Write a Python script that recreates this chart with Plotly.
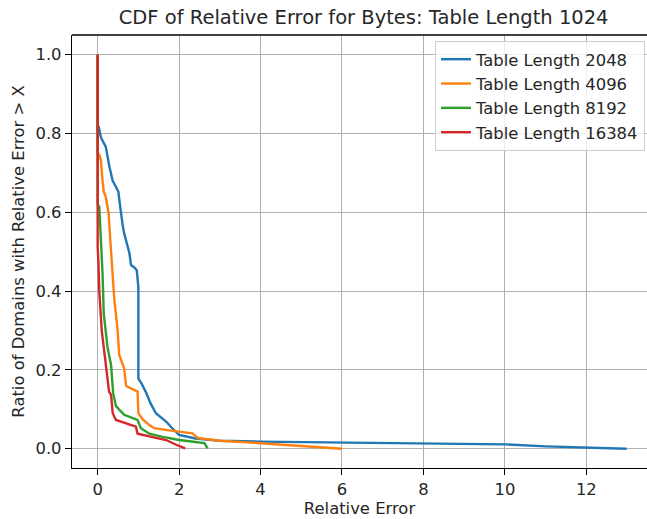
import plotly.graph_objects as go

# ---- data ----
series_names = ["Table Length 2048", "Table Length 4096", "Table Length 8192", "Table Length 16384"]
series_colors = ["#1f77b4", "#ff7f0e", "#2ca02c", "#d62728"]

x_2048 = [0.0, 0.0, 0.02, 0.08, 0.2, 0.24, 0.29, 0.37, 0.45, 0.51, 0.54, 0.57, 0.61, 0.65, 0.72, 0.78, 0.82, 0.9, 0.96, 1.0, 1.0,
          1.08, 1.2, 1.3, 1.43, 1.55, 1.68, 1.85, 2.0, 2.4, 3.0, 3.97, 6.0, 8.0, 10.0, 11.0, 12.0, 12.99]
y_2048 = [1.0, 0.81, 0.82, 0.79, 0.766, 0.74, 0.715, 0.68, 0.665, 0.652, 0.625, 0.598, 0.57, 0.547, 0.52, 0.496, 0.466, 0.46, 0.453, 0.41, 0.178,
          0.165, 0.14, 0.115, 0.09, 0.08, 0.069, 0.05, 0.035, 0.026, 0.02, 0.018, 0.015, 0.013, 0.011, 0.006, 0.003, 0.0]

x_4096 = [0.0, 0.0, 0.04, 0.08, 0.12, 0.15, 0.2, 0.27, 0.31, 0.34, 0.37, 0.41, 0.45, 0.49, 0.53, 0.6, 0.65, 0.7, 0.85, 0.98, 1.0,
          1.1, 1.27, 1.39, 1.8, 2.33, 2.46, 3.0, 4.0, 5.0, 6.0]
y_4096 = [1.0, 0.75, 0.745, 0.732, 0.68, 0.652, 0.639, 0.597, 0.53, 0.48, 0.428, 0.377, 0.34, 0.30, 0.238, 0.22, 0.204, 0.159, 0.152, 0.145, 0.09,
          0.075, 0.06, 0.052, 0.046, 0.039, 0.027, 0.02, 0.014, 0.007, 0.0]

x_8192 = [0.0, 0.0, 0.04, 0.08, 0.12, 0.15, 0.2, 0.24, 0.33, 0.38, 0.45, 0.55, 0.65, 0.8, 0.98, 1.06, 1.27, 1.6, 2.0, 2.4, 2.62, 2.7]
y_8192 = [1.0, 0.62, 0.614, 0.53, 0.445, 0.343, 0.30, 0.259, 0.212, 0.141, 0.108, 0.098, 0.086, 0.08, 0.073, 0.052, 0.038, 0.03, 0.022, 0.017, 0.014, 0.001]

x_16384 = [0.0, 0.0, 0.02, 0.04, 0.1, 0.2, 0.24, 0.28, 0.33, 0.37, 0.45, 0.7, 0.94, 0.98, 1.27, 1.68, 1.93, 2.15]
y_16384 = [1.0, 0.512, 0.47, 0.40, 0.30, 0.217, 0.183, 0.145, 0.136, 0.09, 0.073, 0.064, 0.056, 0.038, 0.031, 0.022, 0.010, 0.001]

xs = [x_2048, x_4096, x_8192, x_16384]
ys = [y_2048, y_4096, y_8192, y_16384]

title_text = "CDF of Relative Error for Bytes: Table Length 1024"
x_title = "Relative Error"
y_title = "Ratio of Domains with Relative Error > X"
x_ticks = [0, 2, 4, 6, 8, 10, 12]
y_ticks = [0.0, 0.2, 0.4, 0.6, 0.8, 1.0]

FONT = "DejaVu Sans"
TXT = "#262626"

fig = go.Figure()
for name, color, x, y in zip(series_names, series_colors, xs, ys):
    fig.add_trace(go.Scatter(x=x, y=y, mode="lines", name=name,
                             line=dict(color=color, width=2.4)))

fig.update_layout(
    width=647, height=519,
    margin=dict(l=72, r=0, t=35, b=51, autoexpand=False),
    paper_bgcolor="white", plot_bgcolor="white",
    font=dict(family=FONT, size=16.4, color=TXT),
    title=dict(text=title_text, x=0.562, xref="container", xanchor="center",
               y=0.967, yref="container", yanchor="middle", font=dict(size=19.5, color=TXT)),
    legend=dict(x=0.9965, xanchor="right", y=0.986, yanchor="top",
                bgcolor="rgba(255,255,255,0.8)", bordercolor="#cccccc", borderwidth=1,
                font=dict(size=16.4), itemwidth=30, tracegroupgap=0),
    showlegend=True,
)
fig.update_xaxes(
    range=[-0.63, 13.49], tickvals=x_ticks, ticktext=[str(v) for v in x_ticks],
    showgrid=True, gridcolor="#b0b0b0", gridwidth=1.3,
    showline=True, linecolor="black", linewidth=1.3, mirror=False,
    ticks="outside", ticklen=6, tickcolor="black", tickwidth=1.3,
    zeroline=False, automargin=False,
    title=dict(text=x_title, standoff=4, font=dict(size=16.4)),
)
fig.update_yaxes(
    range=[-0.049, 1.05], tickvals=y_ticks, ticktext=[f"{v:.1f}" for v in y_ticks],
    showgrid=True, gridcolor="#b0b0b0", gridwidth=1.3,
    showline=True, linecolor="black", linewidth=1.3,
    ticks="outside", ticklen=6, tickcolor="black", tickwidth=1.3,
    zeroline=False, automargin=False,
    title=dict(text=y_title, standoff=6, font=dict(size=16.4)),
)
# top spine (right spine falls outside the picture in the reference)
fig.add_shape(type="line", xref="paper", yref="paper", x0=0, x1=1, y0=1, y1=1,
              line=dict(color="black", width=1.3))

fig.write_html("out.html", config={"displayModeBar": False},
               post_script="document.body.style.margin='0px';document.body.style.padding='0px';")
